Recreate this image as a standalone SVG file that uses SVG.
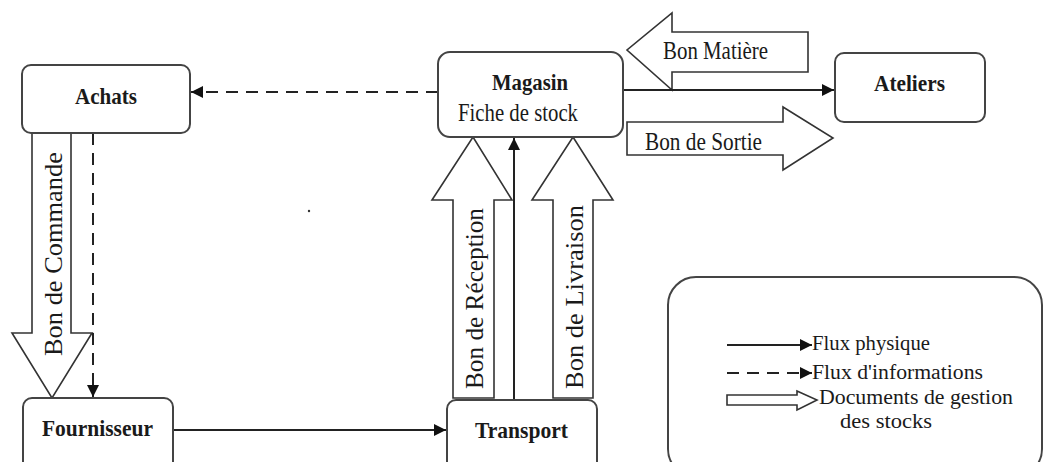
<svg xmlns="http://www.w3.org/2000/svg" width="1045" height="462" viewBox="0 0 1045 462">
  <style>
    .box { fill: #fff; stroke: #444; stroke-width: 2; }
    .lbl { font-family: "Liberation Serif", "Times New Roman", serif; font-weight: bold; font-size: 24px; fill: #1a1a1a; }
    .txt { font-family: "Liberation Serif", "Times New Roman", serif; font-size: 25px; fill: #1a1a1a; }
    .leg { font-family: "Liberation Serif", "Times New Roman", serif; font-size: 20px; fill: #1a1a1a; }
    .flow { stroke: #222; stroke-width: 2; fill: none; }
    .info { stroke: #222; stroke-width: 2; fill: none; stroke-dasharray: 12 8; }
    .doc { fill: #fff; stroke: #333; stroke-width: 1.6; stroke-linejoin: miter; }
  </style>
  <defs>
    <marker id="head" viewBox="0 0 10 10" refX="10" refY="5" markerWidth="6" markerHeight="6" orient="auto" markerUnits="strokeWidth">
      <path d="M0,0 L10,5 L0,10 z" fill="#111"/>
    </marker>
  </defs>
  <rect width="1045" height="462" fill="#fff"/>

  <!-- document arrows (hollow) -->
  <g id="documents">
    <g id="doc-commande">
      <polygon class="doc" points="32,133 71,133 71,333 92,333 52,398 12,333 32,333"/>
      <text class="txt" transform="translate(62,356) rotate(-90)" textLength="204" lengthAdjust="spacingAndGlyphs">Bon de Commande</text>
    </g>
    <g id="doc-reception">
      <polygon class="doc" points="453,398 453,200 432,200 473,137 512,200 494,200 494,398"/>
      <text class="txt" transform="translate(483,389) rotate(-90)" textLength="181" lengthAdjust="spacingAndGlyphs">Bon de Réception</text>
    </g>
    <g id="doc-livraison">
      <polygon class="doc" points="553,398 553,200 532,200 573,137 613,200 593,200 593,398"/>
      <text class="txt" transform="translate(583,389) rotate(-90)" textLength="184" lengthAdjust="spacingAndGlyphs">Bon de Livraison</text>
    </g>
    <g id="doc-matiere">
      <polygon class="doc" points="808,32 672,32 672,13 627,50 672,90 672,72 808,72"/>
      <text class="txt" x="663" y="59" textLength="105" lengthAdjust="spacingAndGlyphs">Bon Matière</text>
    </g>
    <g id="doc-sortie">
      <polygon class="doc" points="627,122 783,122 783,107 833,138 783,170 783,155 627,155"/>
      <text class="txt" x="645" y="150" textLength="117" lengthAdjust="spacingAndGlyphs">Bon de Sortie</text>
    </g>
  </g>

  <!-- flows -->
  <g id="connectors">
    <line class="info" x1="438" y1="92" x2="191" y2="92" marker-end="url(#head)"/>
    <line class="info" x1="93" y1="133" x2="93" y2="397" marker-end="url(#head)"/>
    <line class="flow" x1="173" y1="430" x2="446" y2="430" marker-end="url(#head)"/>
    <line class="flow" x1="514" y1="400" x2="514" y2="138" marker-end="url(#head)"/>
    <line class="flow" x1="623" y1="90" x2="834" y2="90" marker-end="url(#head)"/>
  </g>

  <!-- services -->
  <g id="achats">
    <rect class="box" x="22" y="65" width="168" height="68" rx="9"/>
    <text class="lbl" x="75" y="104" textLength="62" lengthAdjust="spacingAndGlyphs">Achats</text>
  </g>
  <g id="magasin">
    <rect class="box" x="438" y="52" width="185" height="85" rx="12"/>
    <text class="lbl" x="492" y="90" textLength="76" lengthAdjust="spacingAndGlyphs">Magasin</text>
    <text class="txt" x="458" y="121" font-size="27" textLength="120" lengthAdjust="spacingAndGlyphs">Fiche de stock</text>
  </g>
  <g id="ateliers">
    <rect class="box" x="835" y="53" width="150" height="69" rx="9"/>
    <text class="lbl" x="874" y="91" textLength="71" lengthAdjust="spacingAndGlyphs">Ateliers</text>
  </g>
  <g id="fournisseur">
    <rect class="box" x="23" y="398" width="150" height="80" rx="9"/>
    <text class="lbl" x="42" y="436" textLength="111" lengthAdjust="spacingAndGlyphs">Fournisseur</text>
  </g>
  <g id="transport">
    <rect class="box" x="447" y="400" width="150" height="80" rx="9"/>
    <text class="lbl" x="475" y="438" textLength="93" lengthAdjust="spacingAndGlyphs">Transport</text>
  </g>

  <circle cx="309" cy="211" r="1.2" fill="#333"/>

  <!-- key -->
  <g id="legend">
    <rect class="box" x="668" y="277" width="374" height="200" rx="28"/>
    <line class="flow" x1="727" y1="345" x2="812" y2="345" stroke-width="2.5" marker-end="url(#head)"/>
    <text class="leg" x="812" y="350" textLength="118" lengthAdjust="spacingAndGlyphs">Flux physique</text>
    <line class="info" x1="727" y1="373" x2="812" y2="373" stroke-width="2.5" marker-end="url(#head)"/>
    <text class="leg" x="812" y="379" textLength="171" lengthAdjust="spacingAndGlyphs">Flux d'informations</text>
    <polygon class="doc" points="727,395 797,395 797,391 817,400 797,410 797,405 727,405"/>
    <text class="leg" x="819" y="404" textLength="194" lengthAdjust="spacingAndGlyphs">Documents de gestion</text>
    <text class="leg" x="840" y="428" textLength="92" lengthAdjust="spacingAndGlyphs">des stocks</text>
  </g>
</svg>
